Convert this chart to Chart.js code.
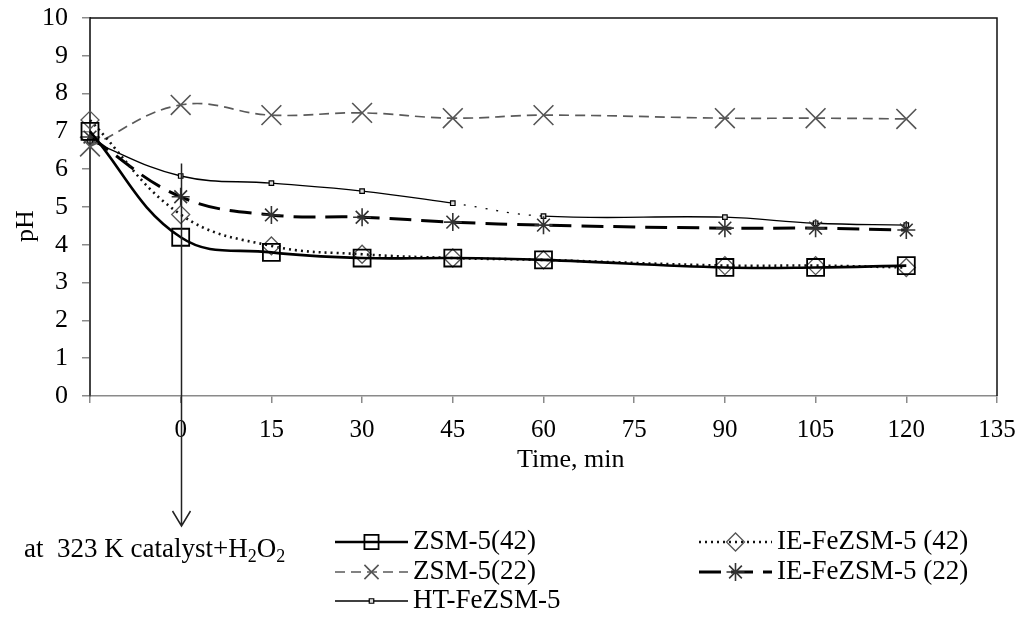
<!DOCTYPE html>
<html>
<head>
<meta charset="utf-8">
<title>pH vs time</title>
<script src="https://cdn.jsdelivr.net/npm/chart.js"></script>
<style>
  html, body { margin: 0; padding: 0; background: #fff; }
  canvas { display: block; }
</style>
</head>
<body>
<canvas id="ph-chart" width="1023" height="618"></canvas>
<script>
// Time (min); -15 is the starting point before catalyst + H2O2 is added
const timeMin = [-15, 0, 15, 30, 45, 60, 90, 105, 120];

// pH series
const phZsm42   = [7.0, 4.2, 3.8, 3.65, 3.65, 3.6, 3.4, 3.4, 3.45];
const phIeFe42  = [7.3, 4.8, 3.97, 3.75, 3.65, 3.6, 3.45, 3.45, 3.4];
const phZsm22   = [6.6, 7.7, 7.43, 7.49, 7.35, 7.43, 7.35, 7.35, 7.33];
const phIeFe22  = [6.85, 5.27, 4.79, 4.73, 4.6, 4.52, 4.44, 4.44, 4.39];
const phHtFe    = [6.75, 5.82, 5.63, 5.42, 5.1, 4.76, 4.73, 4.57, 4.52];

const seriesNames = ['ZSM-5(42)', 'IE-FeZSM-5 (42)', 'ZSM-5(22)', 'IE-FeZSM-5 (22)', 'HT-FeZSM-5'];

const xTicksMin = -15, xTicksMax = 135, xStep = 15;
const yTicksMin = 0, yTicksMax = 10, yStep = 1;

const xTitle = 'Time, min';
const yTitle = 'pH';
// arrow marks the moment catalyst + H2O2 is added (time 0)
const arrowTime = 0;
const arrowTopPh = 6.15;

const FONT = "'Liberation Serif', 'Times New Roman', serif";

function pts(values) {
    return values.map((v, i) => ({ x: timeMin[i], y: v }));
}

const datasets = [
    {
        label: seriesNames[0], data: pts(phZsm42),
        borderColor: '#000', borderWidth: 2.6,
        pointStyle: 'rect', pointRadius: 12, pointBorderWidth: 1.8,
        pointBorderColor: '#000', pointBackgroundColor: 'rgba(0,0,0,0)'
    },
    {
        label: seriesNames[1], data: pts(phIeFe42),
        borderColor: '#111', borderWidth: 2.6, borderDash: [2, 4],
        pointStyle: 'rectRot', pointRadius: 9, pointBorderWidth: 1.3,
        pointBorderColor: '#555', pointBackgroundColor: 'rgba(0,0,0,0)'
    },
    {
        label: seriesNames[2], data: pts(phZsm22),
        borderColor: '#5a5a5a', borderWidth: 1.7, borderDash: [10, 6],
        pointStyle: 'crossRot', pointRadius: 14, pointBorderWidth: 1.6,
        pointBorderColor: '#555', pointBackgroundColor: 'rgba(0,0,0,0)'
    },
    {
        label: seriesNames[3], data: pts(phIeFe22),
        borderColor: '#000', borderWidth: 3, borderDash: [22, 10],
        pointStyle: 'star', pointRadius: 9, pointBorderWidth: 1.6,
        pointBorderColor: '#333', pointBackgroundColor: 'rgba(0,0,0,0)'
    },
    {
        label: seriesNames[4], data: pts(phHtFe),
        borderColor: '#000', borderWidth: 1.3,
        pointStyle: 'rect', pointRadius: 3.2, pointBorderWidth: 1.2,
        pointBorderColor: '#000', pointBackgroundColor: '#ddd',
        // the curve is broken into dots between 45 and 60 min
        segment: { borderDash: c => c.p0DataIndex === 4 ? [2, 9] : undefined }
    }
];
datasets.forEach(d => { d.tension = 0.4; d.fill = false; d.clip = false; });

// where each legend entry sits: [column, row]
const legendSlots = [[0, 0], [1, 0], [0, 1], [1, 1], [0, 2]];

const extrasPlugin = {
    id: 'extras',
    afterDraw(chart) {
        const { ctx, chartArea: a, scales: { x, y } } = chart;
        const h = Chart.helpers;
        ctx.save();

        // box: top and right side of plot area
        ctx.strokeStyle = '#111';
        ctx.lineWidth = 1.5;
        ctx.setLineDash([]);
        ctx.beginPath();
        ctx.moveTo(a.left, a.top);
        ctx.lineTo(a.right, a.top);
        ctx.lineTo(a.right, a.bottom);
        ctx.stroke();

        // arrow at time 0
        const ax = Math.round(x.getPixelForValue(arrowTime)) + 0.5;
        const ay = y.getPixelForValue(arrowTopPh);
        const tip = 526;
        ctx.strokeStyle = '#222';
        ctx.lineWidth = 1.5;
        ctx.beginPath();
        ctx.moveTo(ax, ay);
        ctx.lineTo(ax, tip);
        ctx.moveTo(ax - 9, tip - 15);
        ctx.lineTo(ax, tip);
        ctx.lineTo(ax + 9, tip - 15);
        ctx.stroke();

        ctx.fillStyle = '#000';
        ctx.textBaseline = 'alphabetic';
        ctx.textAlign = 'left';

        // annotation: at 323 K catalyst+H2O2
        let tx = 24;
        const ty = 557;
        const big = '27px ' + FONT, small = '18px ' + FONT;
        const parts = [['at  323 K catalyst+H', big, 0], ['2', small, 5], ['O', big, 0], ['2', small, 5]];
        parts.forEach(([t, f, dy]) => {
            ctx.font = f;
            ctx.fillText(t, tx, ty + dy);
            tx += ctx.measureText(t).width;
        });

        // axis titles
        ctx.font = '26px ' + FONT;
        ctx.textBaseline = 'middle';
        ctx.fillText(xTitle, 517, 460);
        ctx.save();
        ctx.translate(26, 226);
        ctx.rotate(-Math.PI / 2);
        ctx.textAlign = 'center';
        ctx.fillText(yTitle, 0, 0);
        ctx.restore();

        // legend
        const colX = [335, 699];
        const rowY = [542, 572, 601];
        const sampleW = 73;
        chart.data.datasets.forEach((ds, i) => {
            const [c, r] = legendSlots[i];
            const x0 = colX[c], yy = rowY[r];
            ctx.strokeStyle = ds.borderColor;
            ctx.lineWidth = ds.borderWidth;
            ctx.setLineDash(ds.borderDash || []);
            ctx.beginPath();
            ctx.moveTo(x0, yy);
            ctx.lineTo(x0 + sampleW, yy);
            ctx.stroke();
            ctx.setLineDash([]);
            ctx.strokeStyle = ds.pointBorderColor;
            ctx.fillStyle = ds.pointBackgroundColor;
            ctx.lineWidth = ds.pointBorderWidth;
            h.drawPoint(ctx, {
                pointStyle: ds.pointStyle,
                radius: Math.min(ds.pointRadius, 10),
                rotation: 0,
                borderWidth: ds.pointBorderWidth
            }, x0 + sampleW / 2, yy);
            ctx.fillStyle = '#000';
            ctx.font = '27px ' + FONT;
            ctx.textBaseline = 'middle';
            ctx.fillText(ds.label, x0 + sampleW + 5, yy);
        });

        ctx.restore();
    }
};

new Chart(document.getElementById('ph-chart'), {
    type: 'line',
    data: { datasets },
    options: {
        responsive: false,
        animation: false,
        devicePixelRatio: 1,
        layout: { padding: { left: 10, right: 26, top: 18, bottom: 150 } },
        plugins: { legend: { display: false }, tooltip: { enabled: false } },
        scales: {
            x: {
                type: 'linear',
                min: xTicksMin, max: xTicksMax,
                afterFit(scale) {
                    scale.height = 72;
                    scale.paddingLeft = 0;
                    scale.paddingRight = 0;
                },
                ticks: {
                    stepSize: xStep,
                    padding: 12,
                    color: '#000',
                    font: { family: FONT, size: 25 },
                    maxRotation: 0,
                    callback: v => v === xTicksMin ? '' : v
                },
                grid: { drawOnChartArea: false, drawTicks: true, tickLength: 7, color: '#8a8a8a', lineWidth: 1.5 },
                border: { display: true, color: '#8a8a8a', width: 1.5 }
            },
            y: {
                min: yTicksMin, max: yTicksMax,
                afterFit(scale) {
                    scale.width = 80;
                    scale.paddingTop = 0;
                    scale.paddingBottom = 0;
                },
                ticks: {
                    stepSize: yStep,
                    padding: 14,
                    color: '#000',
                    font: { family: FONT, size: 26 }
                },
                grid: { drawOnChartArea: false, drawTicks: true, tickLength: 8, color: '#8a8a8a', lineWidth: 1.5 },
                border: { display: true, color: '#444', width: 2 }
            }
        }
    },
    plugins: [extrasPlugin]
});
</script>
</body>
</html>
